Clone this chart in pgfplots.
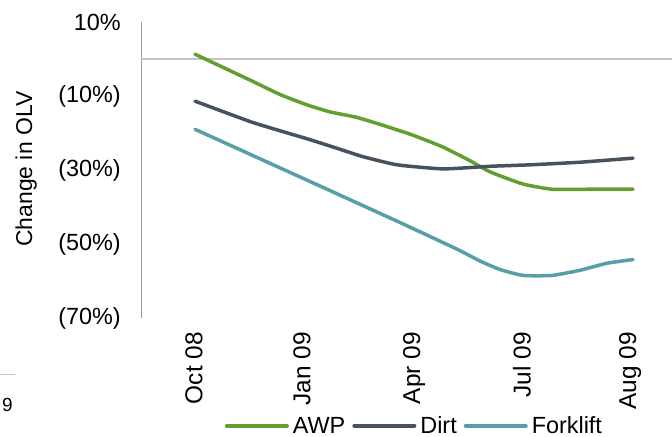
\documentclass[border=0pt]{standalone}
\usepackage{fontspec}
\setmainfont{Liberation Sans}
\usepackage{pgfplots}
\pgfplotsset{compat=1.18}

\definecolor{awp}{RGB}{99,158,48}
\definecolor{dirt}{RGB}{70,83,95}
\definecolor{fork}{RGB}{88,158,166}
\definecolor{axisblue}{RGB}{143,160,176}
\definecolor{zerogray}{RGB}{192,196,200}

\begin{document}
\begin{tikzpicture}[x=1bp,y=1bp]
\path[use as bounding box] (0,0) rectangle (672,437);
% stray bits at the left edge
\draw[zerogray, line width=1bp] (0,62) -- (15,62);
\node[anchor=west, inner sep=0pt, font=\fontsize{19}{22}\selectfont] at (2,32) {9};
\begin{axis}[
  at={(141bp,119bp)}, anchor=south west,
  scale only axis, width=531bp, height=296bp,
  xmin=141, xmax=672, ymin=-70, ymax=10,
  clip=false,
  axis x line*=bottom, x axis line style={draw=none},
  axis y line*=left, y axis line style={draw=axisblue, line width=1bp, -},
  major tick length=0pt,
  xtick={194,302,414,522,630},
  xticklabels={Oct 08, Jan 09, Apr 09, Jul 09, Aug 09},
  xticklabel style={rotate=90, anchor=east, inner sep=0pt, xshift=-14bp,
    font=\fontsize{24.5}{28}\selectfont},
  ytick={-70,-50,-30,-10,10},
  yticklabels={(70\%),(50\%),(30\%),(10\%),10\%},
  yticklabel style={anchor=east, inner sep=0pt, xshift=-20bp,
    font=\fontsize{23.5}{27}\selectfont},
  ylabel={Change in OLV},
  ylabel style={at={(axis description cs:-0.216,0.503)}, anchor=center,
    inner sep=0pt, font=\fontsize{23}{27}\selectfont},
  legend style={at={(0.514,-0.364)}, anchor=center, draw=none, fill=none,
    legend columns=-1, font=\fontsize{23.5}{27}\selectfont,
    nodes={inner sep=1bp},
    /tikz/every odd column/.append style={column sep=3bp},
    /tikz/every even column/.append style={column sep=6bp}},
  legend image code/.code={\draw[#1, line width=4bp] (0bp,0bp) -- (60bp,0bp);},
  every axis plot/.append style={line width=3.5bp, line join=round, line cap=round},
]
% zero reference line
\addplot[zerogray, line width=1.2bp, forget plot] coordinates {(141,0) (672,0)};

\addplot[awp, smooth, tension=0.3] coordinates {
  (195,1.3) (250,-5.7) (280,-9.6) (307,-12.4) (330,-14.3) (357,-15.8)
  (385,-18.1) (413,-20.6) (443,-23.8) (470,-27.5) (490,-30.5) (523,-33.8)
  (552,-35.2) (590,-35.2) (633,-35.2)
};
\addlegendentry{AWP}

\addplot[dirt, smooth, tension=0.3] coordinates {
  (195,-11.4) (250,-16.9) (280,-19.4) (310,-21.8) (340,-24.4) (363,-26.4)
  (397,-28.6) (443,-29.7) (490,-29.0) (530,-28.6) (580,-27.9) (633,-26.8)
};
\addlegendentry{Dirt}

\addplot[fork, smooth, tension=0.3] coordinates {
  (195,-19.0) (270,-28.2) (340,-36.8) (400,-44.2) (457,-51.4) (480,-54.6)
  (500,-56.9) (523,-58.5) (552,-58.5) (580,-57.1) (607,-55.2) (633,-54.2)
};
\addlegendentry{Forklift}
\end{axis}
\end{tikzpicture}
\end{document}
